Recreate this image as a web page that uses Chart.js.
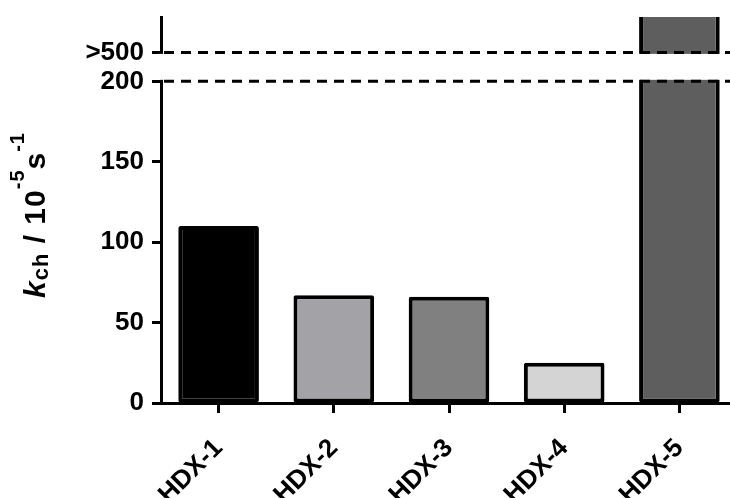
<!DOCTYPE html>
<html>
<head>
<meta charset="utf-8">
<script src="https://cdn.jsdelivr.net/npm/chart.js@4"></script>
<style>
  html, body { margin: 0; padding: 0; background: #fff; overflow: hidden; }
  canvas { display: block; }
</style>
</head>
<body>
<canvas id="c" width="745" height="498"></canvas>
<script>
/* k_ch bar chart with a broken y axis */

// data
const categories = ['HDX-1', 'HDX-2', 'HDX-3', 'HDX-4', 'HDX-5'];
const kchValues = [110, 67, 66, 25, 650];   // HDX-5 is only known as >500
const barColors = ['#000000', '#a2a2a7', '#808080', '#d4d4d4', '#5e5e5e'];
const lowerTicks = [0, 50, 100, 150, 200];
const upperTicks = [500];

// axis break: 0-200 linear, then a gap, then >500 compressed
const BREAK_LOW = 200;
const BREAK_HIGH = 500;
const GAP = 18;
const UPPER_SCALE = 0.22;
function toAxis(v) {
  if (v <= BREAK_LOW) return v;
  return BREAK_LOW + GAP + (v - BREAK_HIGH) * UPPER_SCALE;
}
function tickText(v) {
  const up = upperTicks.find(t => toAxis(t) === v);
  return up !== undefined ? '>' + up : String(v);
}

const FONT = '"Liberation Sans", Arial, Helvetica, sans-serif';

// white gap + dashed break lines
const breakPlugin = {
  id: 'axisBreak',
  afterDatasetsDraw(chart) {
    const { ctx, chartArea, scales } = chart;
    const yLow = scales.y.getPixelForValue(BREAK_LOW);
    const yHigh = scales.y.getPixelForValue(toAxis(BREAK_HIGH));
    ctx.save();
    ctx.fillStyle = '#fff';
    ctx.fillRect(chartArea.left - 3, yHigh + 1.5, chart.width, yLow - yHigh - 3);
    ctx.strokeStyle = '#000';
    ctx.lineWidth = 3;
    ctx.setLineDash([10, 7]);
    [yLow, yHigh].forEach(y => {
      ctx.beginPath();
      ctx.moveTo(chartArea.left + 3, y);
      ctx.lineTo(chart.width, y);
      ctx.stroke();
    });
    ctx.restore();
  }
};

// y title with sub/superscripts
const titlePlugin = {
  id: 'yTitle',
  afterDraw(chart) {
    const ctx = chart.ctx;
    const parts = [
      { t: 'k', f: 'italic bold 30px ' + FONT, dy: 0 },
      { t: 'ch', f: 'bold 22px ' + FONT, dy: 3 },
      { t: ' / 10', f: 'bold 30px ' + FONT, dy: 0 },
      { t: '-5', f: 'bold 20px ' + FONT, dy: -21 },
      { t: 's', f: 'bold 30px ' + FONT, dy: 0 },
      { t: '-1', f: 'bold 20px ' + FONT, dy: -21 },
    ];
    ctx.save();
    ctx.letterSpacing = '1px';
    let total = 0;
    parts.forEach(p => { ctx.font = p.f; p.w = ctx.measureText(p.t).width; total += p.w; });
    ctx.translate(45, 215);
    ctx.rotate(-Math.PI / 2);
    ctx.fillStyle = '#000';
    ctx.textBaseline = 'alphabetic';
    ctx.textAlign = 'left';
    let x = -total / 2;
    parts.forEach(p => {
      ctx.font = p.f;
      ctx.fillText(p.t, x, p.dy);
      x += p.w;
    });
    ctx.restore();
  }
};

new Chart(document.getElementById('c'), {
  type: 'bar',
  data: {
    labels: categories,
    datasets: [{
      data: kchValues.map(toAxis),
      backgroundColor: barColors,
      borderColor: '#000',
      borderWidth: 4,
      borderSkipped: false,
      borderRadius: 2,
      barPercentage: 0.7,
      categoryPercentage: 1,
    }]
  },
  options: {
    responsive: false,
    animation: false,
    layout: { padding: { top: 17, right: 8, left: 0, bottom: 0 } },
    plugins: { legend: { display: false }, tooltip: { enabled: false } },
    scales: {
      x: {
        grid: { display: true, drawOnChartArea: false, offset: false, tickLength: 10, tickWidth: 3, tickColor: '#000' },
        border: { display: true, color: '#000', width: 3 },
        ticks: {
          color: '#000', font: { family: FONT, size: 26, weight: 'bold' },
          maxRotation: 45, minRotation: 45, autoSkip: false, padding: 20,
        },
        afterFit: s => { s.height = 95; s.paddingLeft = 0; s.paddingRight = 0; },
      },
      y: {
        min: 0,
        max: toAxis(600),
        grid: { display: true, drawOnChartArea: false, tickLength: 9, tickWidth: 3, tickColor: '#000' },
        border: { display: true, color: '#000', width: 3 },
        ticks: {
          color: '#000', font: { family: FONT, size: 26, weight: 'bold' }, padding: 8,
          callback: v => tickText(v),
        },
        afterBuildTicks: s => {
          s.ticks = lowerTicks.concat(upperTicks.map(toAxis)).map(v => ({ value: v }));
        },
        afterFit: s => { s.width = 161; s.paddingTop = 0; s.paddingBottom = 0; },
      }
    }
  },
  plugins: [breakPlugin, titlePlugin]
});
</script>
</body>
</html>
